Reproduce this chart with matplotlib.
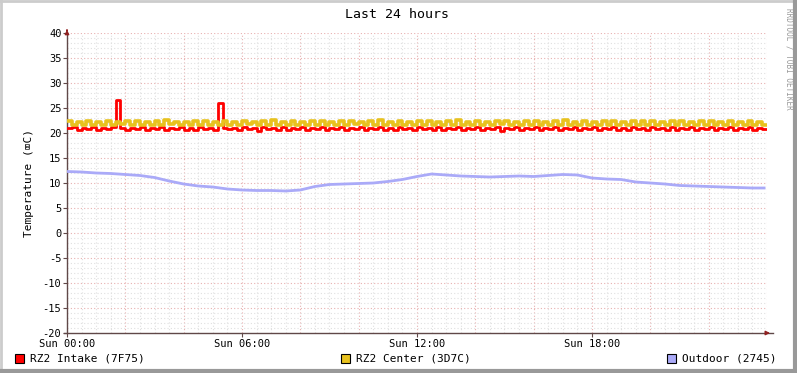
import numpy as np
import matplotlib
matplotlib.use('Agg')
import matplotlib.pyplot as plt
from matplotlib.patches import Rectangle

plt.rcParams['font.family'] = ['DejaVu Sans Mono', 'DejaVu Sans']

# 10 minute samples, hours since Sun 00:00
intake = [
    21.0, 21.2, 20.7, 21.1, 20.8, 21.2, 20.6, 21.1, 20.9, 21.2, 26.6, 21.0,
    20.7, 21.1, 20.8, 21.2, 20.6, 21.1, 20.8, 21.2, 20.7, 21.1, 20.9, 21.2,
    20.7, 21.1, 20.6, 21.2, 20.8, 21.1, 20.7, 26.0, 21.0, 20.8, 21.1, 20.7,
    21.2, 20.8, 21.1, 20.5, 21.2, 20.8, 21.1, 20.7, 21.2, 20.6, 21.1, 20.8,
    21.2, 20.7, 21.1, 20.8, 21.2, 20.6, 21.1, 20.8, 21.2, 20.7, 21.1, 20.9,
    21.2, 20.7, 21.1, 20.8, 21.2, 20.7, 21.1, 20.6, 21.2, 20.8, 21.1, 20.7,
    21.2, 20.8, 21.1, 20.7, 21.2, 20.6, 21.1, 20.8, 21.2, 20.7, 21.1, 20.8,
    21.2, 20.7, 21.1, 20.8, 21.2, 20.5, 21.1, 20.8, 21.2, 20.7, 21.1, 20.8,
    21.2, 20.7, 21.1, 20.8, 21.2, 20.6, 21.1, 20.8, 21.2, 20.7, 21.1, 20.9,
    21.2, 20.7, 21.1, 20.8, 21.2, 20.7, 21.1, 20.6, 21.2, 20.8, 21.1, 20.7,
    21.2, 20.8, 21.1, 20.7, 21.2, 20.6, 21.1, 20.8, 21.2, 20.7, 21.1, 20.8,
    21.2, 20.7, 21.1, 20.8, 21.2, 20.6, 21.1, 20.8, 21.2, 20.7, 21.1, 20.8,
]
center = [
    22.4, 21.7, 22.3, 21.6, 22.5, 21.7, 22.2, 21.7, 22.4, 21.6, 22.3, 21.8,
    22.4, 21.7, 22.5, 21.7, 22.3, 21.6, 22.4, 21.7, 22.6, 21.8, 22.3, 21.7,
    22.2, 21.6, 22.4, 21.7, 22.5, 21.7, 22.3, 21.6, 22.4, 21.7, 22.2, 21.7,
    22.5, 21.8, 22.3, 21.7, 22.4, 21.6, 22.6, 21.7, 22.3, 21.7, 22.4, 21.6,
    22.3, 21.7, 22.5, 21.7, 22.4, 21.7, 22.2, 21.6, 22.4, 21.7, 22.5, 21.8,
    22.3, 21.7, 22.4, 21.6, 22.6, 21.7, 22.3, 21.7, 22.4, 21.6, 22.3, 21.7,
    22.5, 21.7, 22.4, 21.7, 22.3, 21.6, 22.4, 21.7, 22.6, 21.7, 22.3, 21.6,
    22.4, 21.7, 22.2, 21.7, 22.5, 21.8, 22.4, 21.7, 22.3, 21.6, 22.4, 21.7,
    22.5, 21.7, 22.3, 21.7, 22.4, 21.6, 22.6, 21.7, 22.3, 21.7, 22.4, 21.6,
    22.3, 21.7, 22.5, 21.7, 22.4, 21.7, 22.3, 21.6, 22.4, 21.7, 22.5, 21.7,
    22.4, 21.6, 22.3, 21.7, 22.5, 21.7, 22.4, 21.7, 22.3, 21.6, 22.4, 21.7,
    22.5, 21.7, 22.3, 21.7, 22.4, 21.6, 22.3, 21.7, 22.4, 21.7, 22.3, 21.7,
]
# 30 minute samples
outdoor = [
    12.3, 12.2, 12.0, 11.9, 11.7, 11.5, 11.1, 10.4, 9.8, 9.4, 9.2, 8.8,
    8.6, 8.5, 8.5, 8.4, 8.6, 9.3, 9.7, 9.8, 9.9, 10.0, 10.3, 10.7,
    11.3, 11.8, 11.6, 11.4, 11.3, 11.2, 11.3, 11.4, 11.3, 11.5, 11.7, 11.6,
    11.0, 10.8, 10.7, 10.2, 10.0, 9.8, 9.5, 9.4, 9.3, 9.2, 9.1, 9.0, 9.0,
]
tick_hours = [0, 6, 12, 18]
tick_labels = ['Sun 00:00', 'Sun 06:00', 'Sun 12:00', 'Sun 18:00']
legend_names = ['RZ2 Intake (7F75)', 'RZ2 Center (3D7C)', 'Outdoor (2745)']
colors = ['#FF0000', '#E8C21E', '#AAAAF8']

W, H = 797, 373
fig = plt.figure(figsize=(W / 100, H / 100), dpi=100)
fig.patch.set_facecolor('white')

x0, x1, y0, y1 = 67, 767, 33, 333
ax = fig.add_axes([x0 / W, 1 - y1 / H, (x1 - x0) / W, (y1 - y0) / H])
ax.set_xlim(0, 24)
ax.set_ylim(-20, 40)
ax.patch.set_alpha(0)

# grid
for h in np.arange(0.5, 24.01, 0.5):
    major = abs(h / 2 - round(h / 2)) < 1e-6
    ax.axvline(h, color='#E8B0B0' if major else '#E0E0E0', lw=0.8,
               linestyle=(0, (1, 2)), zorder=0)
for v in range(-19, 41):
    major = v % 5 == 0
    ax.axhline(v, color='#E8B0B0' if major else '#E0E0E0', lw=0.8,
               linestyle=(0, (1, 2)), zorder=0)

t10 = np.arange(len(intake)) / 6.0
t10e = np.append(t10, t10[-1] + 1 / 6.0 - 0.05)
ax.step(t10e, intake + [intake[-1]], where='post', color=colors[0], lw=2, zorder=3)
ax.step(t10e, center + [center[-1]], where='post', color=colors[1], lw=2.6, zorder=4)
t30 = np.arange(len(outdoor)) * 0.5
t30[-1] = 23.9
ax.plot(t30, outdoor, color=colors[2], lw=2, zorder=5)

for s in ['top', 'right']:
    ax.spines[s].set_visible(False)
for s in ['left', 'bottom']:
    ax.spines[s].set_color('#604848')
    ax.spines[s].set_linewidth(1)
ax.spines['bottom'].set_bounds(-0.1, 24.2)

# arrows
ax.annotate('', xy=(24.2, -20), xytext=(23.9, -20), annotation_clip=False,
            arrowprops=dict(arrowstyle='-|>', color='#902020', lw=1,
                            mutation_scale=6))
ax.annotate('', xy=(0, 41.2), xytext=(0, 40), annotation_clip=False,
            arrowprops=dict(arrowstyle='-|>', color='#902020', lw=1,
                            mutation_scale=6))

ax.set_yticks(range(-20, 41, 5))
ax.set_yticklabels([str(v) for v in range(-20, 41, 5)], fontsize=7.5)
ax.set_xticks(tick_hours)
ax.set_xticklabels(tick_labels, fontsize=7.5)
ax.tick_params(axis='both', length=3, width=0.8, color='#604848', pad=1)
ax.set_ylabel('Temperature (\u2327C)', fontsize=8, labelpad=6)

fig.text(397 / W, 1 - 14 / H, 'Last 24 hours', ha='center', va='center', fontsize=9.5)
fig.text(789 / W, 1 - 8 / H, 'RRDTOOL / TOBI OETIKER', ha='center', va='top',
         rotation=270, fontsize=5.5, color='#999999')

# legend
leg_x = [15, 341, 667]
for lx, name, c in zip(leg_x, legend_names, colors):
    fig.patches.append(Rectangle((lx / W, 1 - 363 / H), 9 / W, 9 / H,
                                 transform=fig.transFigure, facecolor=c,
                                 edgecolor='black', lw=0.8))
    fig.text((lx + 15) / W, 1 - 358.5 / H, name, ha='left', va='center', fontsize=8)

# frame
fig.add_artist(plt.Line2D([0, 1], [1 - 1 / H, 1 - 1 / H], transform=fig.transFigure, color='#CCCCCC', lw=2))
fig.add_artist(plt.Line2D([1 / W, 1 / W], [0, 1], transform=fig.transFigure, color='#CCCCCC', lw=2))
fig.add_artist(plt.Line2D([0, 1], [2 / H, 2 / H], transform=fig.transFigure, color='#999999', lw=3))
fig.add_artist(plt.Line2D([1 - 2 / W, 1 - 2 / W], [0, 1], transform=fig.transFigure, color='#999999', lw=3))

fig.savefig('out.png', dpi=100, facecolor='white')
